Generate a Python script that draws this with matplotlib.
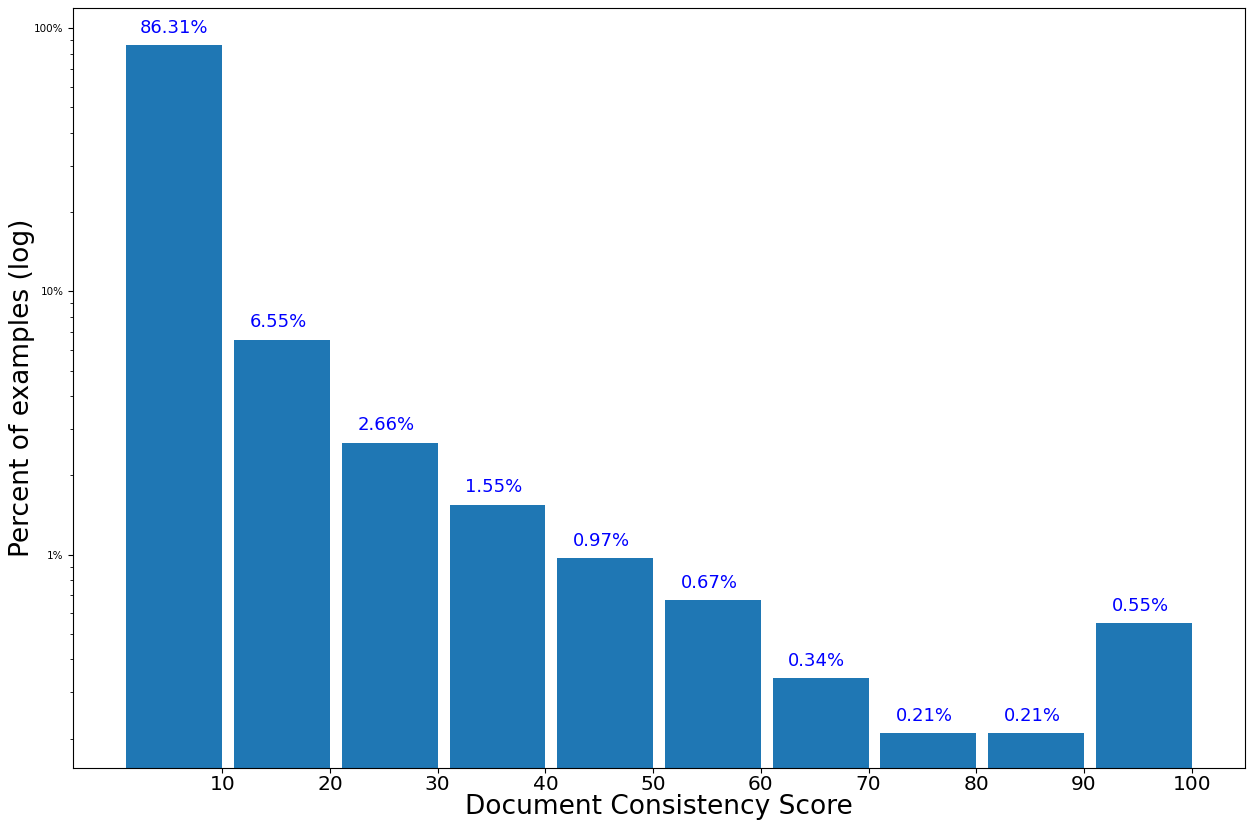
import numpy as np
import matplotlib.pyplot as plt
from matplotlib.ticker import FuncFormatter

# Histogram of document consistency scores (bins of 10)
bin_right = [10, 20, 30, 40, 50, 60, 70, 80, 90, 100]
percents = [86.31, 6.55, 2.66, 1.55, 0.97, 0.67, 0.34, 0.21, 0.21, 0.55]

fig = plt.figure(figsize=(12.51, 8.3), dpi=100)
ax = fig.add_axes([0.0584, 0.075, 0.9368, 0.915])

ax.bar(bin_right, percents, width=-8.9, align='edge', color='#1f77b4')
ax.set_yscale('log')
ax.set_ylim(0.155, 119)

ax.yaxis.set_major_formatter(FuncFormatter(lambda v, _: f'{v:g}%'))
ax.tick_params(axis='y', labelsize=7.5)
ax.set_xticks(bin_right)
ax.tick_params(axis='x', labelsize=14.5, pad=2)

# label each bar near the middle of its bin
for i, (x, p) in enumerate(zip(bin_right, percents)):
    cx = x - 4.45 if i == 0 else x - 4.8
    ax.annotate(f'{p:.2f}%', (cx, p), xytext=(0, 6), textcoords='offset points',
                ha='center', va='bottom', color='blue', fontsize=13)

ax.set_xlabel('Document Consistency Score', fontsize=19, labelpad=0)
ax.set_ylabel('Percent of examples (log)', fontsize=19, labelpad=-1)

fig.savefig('out.png', dpi=100)
